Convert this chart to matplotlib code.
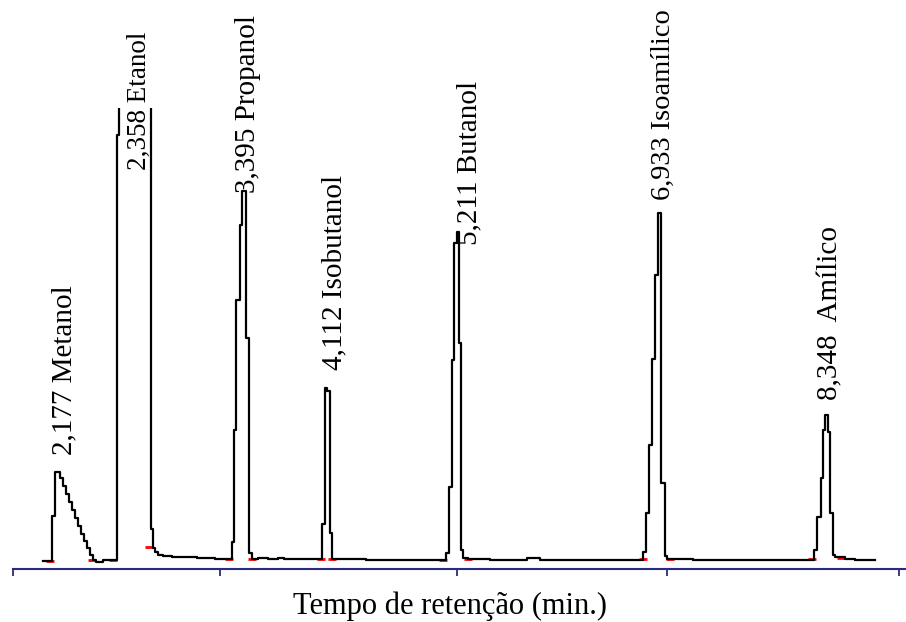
import matplotlib
matplotlib.use("Agg")
import matplotlib.pyplot as plt

plt.rcParams['font.family'] = ['Liberation Serif', 'DejaVu Serif']

# Detector trace: retention time (min) and signal (arbitrary units), stepped samples
time_min = [1.685, 1.762, 1.787, 1.830, 1.855, 1.881, 1.906, 1.932, 1.957, 1.983,
            2.008, 2.034, 2.060, 2.085, 2.111, 2.136, 2.196,
            2.315, 2.332, 2.600, 2.621, 2.638, 2.663, 2.706, 2.783, 2.995, 3.148,
            3.289, 3.306, 3.331, 3.361, 3.382, 3.408, 3.438, 3.463,
            3.514, 3.599, 3.684, 3.735,
            4.059, 4.084, 4.105, 4.127, 4.144, 4.433,
            5.109, 5.135, 5.160, 5.181, 5.203, 5.220, 5.241, 5.262, 5.300,
            5.488, 5.802, 5.913,
            6.793, 6.815, 6.840, 6.866, 6.891, 6.917, 6.942, 6.972, 6.993, 7.214,
            8.244, 8.269, 8.299, 8.320, 8.341, 8.363, 8.380, 8.401, 8.422,
            8.507, 8.592, 8.763]
signal = [-0.2, 4.3, 8.7, 8.1, 7.3, 6.5, 5.7, 4.9, 4.1, 3.3,
          2.5, 1.8, 1.1, 0.4, -0.1, -0.3, -0.1,
          42.4, 60.0, 3.0, 1.1, 0.7, 0.4, 0.3, 0.2, 0.1, 0.0,
          1.7, 12.9, 25.9, 33.4, 36.8, 22.1, 0.6, 0.0,
          0.15, 0.0, 0.15, 0.0,
          3.5, 17.1, 16.8, 2.6, 0.0, -0.1,
          0.6, 7.2, 19.9, 31.6, 32.7, 21.6, 0.9, 0.1, 0.0,
          -0.1, 0.1, -0.1,
          0.7, 4.6, 11.4, 20.0, 28.4, 34.6, 7.6, 0.3, 0.0, -0.1,
          0.9, 4.2, 8.1, 12.9, 14.4, 12.7, 4.6, 0.4, 0.2,
          0.0, -0.1, -0.1]

# Integration limits (start / end of each peak)
limit_time = [1.745, 2.102, 2.281, 2.587, 3.267, 3.463, 4.050, 4.144,
              5.088, 5.300, 6.789, 7.019, 8.227, 8.473]
limit_signal = [-0.2, -0.1, -0.1, 1.2, 0.0, 0.0, 0.0, 0.0,
                -0.1, 0.0, 0.0, 0.0, 0.0, 0.1]

# Peak annotations
peak_labels = ["2,177 Metanol", "2,358 Etanol", "3,395 Propanol",
               "4,112 Isobutanol", "5,211 Butanol", "6,933 Isoamílico",
               "8,348  Amílico"]
label_x = [1.864, 2.502, 3.430, 4.160, 5.309, 6.960, 8.385]
label_y = [10.4, 38.9, 36.6, 18.9, 31.4, 35.9, 15.9]
label_size = [21, 19.5, 21, 21, 21, 20.5, 21]

tick_positions = [1.430, 3.191, 5.207, 6.993, 8.967]

fig = plt.figure(figsize=(9.06, 6.22), dpi=100)
ax = fig.add_axes([13 / 906, 53 / 622, 893 / 906, 461 / 622])

ax.plot(limit_time, limit_signal, ls='none', marker='_', ms=6, mew=2,
        color='red', zorder=1)
ax.plot(time_min, signal, drawstyle='steps-post', color='black', lw=1.6,
        zorder=2)

for text, x, y, size in zip(peak_labels, label_x, label_y, label_size):
    ax.text(x, y, text, rotation=90, ha='center', va='bottom', fontsize=size,
            color='black')

ax.set_xlim(1.430, 9.026)
ax.set_ylim(-1.0, 45.1)

axis_color = '#2a2a85'
for side in ('top', 'left', 'right'):
    ax.spines[side].set_visible(False)
ax.spines['bottom'].set_color(axis_color)
ax.spines['bottom'].set_linewidth(1.5)
ax.set_xticks(tick_positions)
ax.set_xticklabels([])
ax.set_yticks([])
ax.tick_params(axis='x', direction='out', length=5, width=1.3, color=axis_color)

fig.text(450 / 906, 1 - 606 / 622, "Tempo de retenção (min.)", ha='center',
         va='center', fontsize=22)

fig.savefig("out.png", dpi=100)
